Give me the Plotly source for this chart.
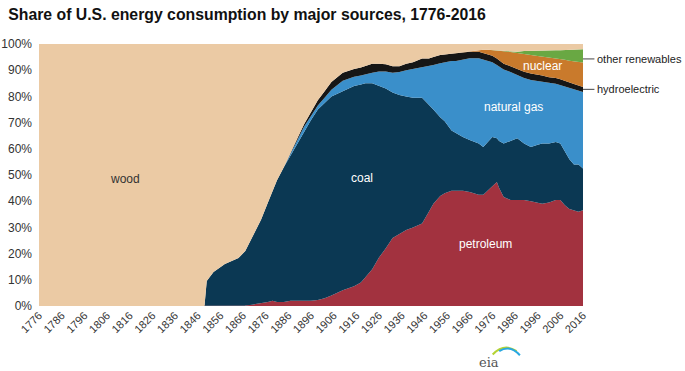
import plotly.graph_objects as go

years = [1776, 1849, 1850, 1853, 1858, 1864, 1867, 1870, 1874, 1877,
         1879, 1881, 1884, 1887, 1890, 1893, 1896, 1899, 1902, 1905,
         1910, 1915, 1918, 1920, 1923, 1926, 1929, 1932, 1935, 1938,
         1941, 1945, 1948, 1950, 1953, 1955, 1958, 1960, 1963, 1966,
         1970, 1972, 1974, 1976, 1978, 1979, 1981, 1984, 1987, 1990,
         1993, 1996, 1998, 2001, 2004, 2006, 2008, 2010, 2012, 2014,
         2016]

petroleum = [0, 0, 0, 0, 0, 0, 0.2, 0.5, 1, 1.5,
             2, 1.5, 1.5, 2, 2, 2, 2, 2.3, 3, 4,
             6, 7.5, 9, 11, 14, 18.5, 22, 26, 27.5, 29,
             30, 31.5, 36, 39, 42, 43, 44, 44, 44, 43.5,
             42.5, 42.5, 44, 45.5, 47.3, 45, 41.6, 40.5, 40.5, 40.5,
             40, 39.5, 39, 39.5, 40.5, 40.5, 38.5, 37, 36.5, 36,
             36.5]

coal = [0, 0, 9.5, 13, 16, 18.3, 20.8, 25.5, 32, 38,
        42, 46.5, 51.5, 55.5, 60, 65, 69, 72.7, 74.5, 76,
        76, 76.5, 75.5, 74, 71, 65.5, 61, 55.5, 53, 51,
        49.5, 48, 41, 36, 30, 27.5, 23, 22, 20.5, 19.9,
        19.5, 18.2, 18.5, 19, 16.7, 18, 20.4, 22.5, 23.5, 21.5,
        20.7, 22, 23, 22.5, 22.1, 21.5, 20.5, 19, 17.5, 18,
        16]

natural_gas = [0, 0, 0, 0, 0, 0, 0, 0, 0, 0,
               0, 0, 0, 0.7, 1.5, 1.5, 1.5, 1.5, 2, 2.5,
               4, 3.5, 3.5, 3.5, 4, 5.5, 6.5, 7.5, 8.8, 10,
               11, 11.5, 14.5, 17, 20.7, 22.5, 26.5, 27.5, 29.5, 31.2,
               32.6, 33.3, 31, 28.5, 28, 28.5, 28.3, 26.3, 24, 25,
               25.6, 24.3, 23.6, 23.2, 22.2, 22.3, 24.7, 27.2, 28.7, 28.2,
               29.2]

hydroelectric = [0, 0, 0, 0, 0, 0, 0, 0, 0, 0,
                 0, 0, 0, 0, 0.5, 1, 1.5, 2, 2.5, 3,
                 3, 3, 3, 3, 3.5, 3, 2.8, 2.5, 2.2, 2.5,
                 2.5, 3.5, 3, 3, 3.1, 3, 2.8, 2.8, 2.7, 2.4,
                 2.4, 2.5, 2.5, 2.5, 2.5, 2.3, 2.2, 2.2, 2.3, 2.4,
                 2.4, 2.5, 2.4, 2.1, 2.2, 2.2, 2.1, 2, 2, 2,
                 1.9]

nuclear = [0, 0, 0, 0, 0, 0, 0, 0, 0, 0,
           0, 0, 0, 0, 0, 0, 0, 0, 0, 0,
           0, 0, 0, 0, 0, 0, 0, 0, 0, 0,
           0, 0, 0, 0, 0, 0, 0.05, 0.05, 0.1, 0.3,
           0.7, 1.3, 1.8, 2.2, 3, 3.6, 4.7, 5.4, 6.3, 6.9,
           7.1, 7.1, 7.2, 7.6, 7.6, 7.8, 8.2, 8.4, 8.6, 8.9,
           9.3]

other_renewables = [0, 0, 0, 0, 0, 0, 0, 0, 0, 0,
                    0, 0, 0, 0, 0, 0, 0, 0, 0, 0,
                    0, 0, 0, 0, 0, 0, 0, 0, 0, 0,
                    0, 0, 0, 0, 0, 0, 0, 0, 0, 0,
                    0, 0, 0, 0, 0, 0, 0, 0.1, 0.4, 1,
                    1.6, 2.2, 2.4, 2.7, 3, 3.3, 3.7, 4.2, 4.6, 4.8,
                    5.1]

wood = [100, 100, 90.5, 87, 84, 81.7, 79, 74, 67, 60.5,
        56, 52, 47, 41.8, 36, 30.5, 26, 21.5, 18, 14.5,
        11, 9.5, 9, 8.5, 7.5, 7.5, 7.7, 8.5, 8.5, 7.5,
        7, 5.5, 5.5, 5, 4.2, 4, 3.65, 3.65, 3.2, 2.7,
        2.3, 2.2, 2.2, 2.3, 2.5, 2.6, 2.8, 3, 3, 2.7,
        2.6, 2.4, 2.4, 2.4, 2.4, 2.4, 2.3, 2.2, 2.1, 2.1,
        2]

x_ticks = list(range(1776, 2017, 10))
y_ticks = list(range(0, 101, 10))

series = [
    ("petroleum", petroleum, "#A2323F"),
    ("coal", coal, "#0B3853"),
    ("natural gas", natural_gas, "#3A8FCA"),
    ("hydroelectric", hydroelectric, "#161616"),
    ("nuclear", nuclear, "#C97A2C"),
    ("other renewables", other_renewables, "#69A843"),
    ("wood", wood, "#EBCAA4"),
]

fig = go.Figure()
for name, vals, col in series:
    fig.add_trace(go.Scatter(
        x=years, y=vals, name=name, mode="lines", stackgroup="one",
        line=dict(width=0, color=col), fillcolor=col, hoverinfo="x+y+name",
    ))

fig.update_layout(
    width=685, height=371,
    margin=dict(l=39, r=102, t=44, b=65, autoexpand=False),
    paper_bgcolor="white", plot_bgcolor="white",
    showlegend=False,
    font=dict(family="Liberation Sans, Arial, sans-serif", color="#333", size=12),
    title=dict(
        text="<b>Share of U.S. energy consumption by major sources, 1776-2016</b>",
        x=0.012, xanchor="left", y=0.962, yanchor="middle",
        font=dict(family="Liberation Sans, Arial, sans-serif", size=15.8, color="#111"),
    ),
    xaxis=dict(
        range=[1776, 2016], tickvals=x_ticks, ticktext=[str(t) for t in x_ticks],
        tickangle=-45, tickfont=dict(size=11, color="#333"), automargin=False,
        showgrid=False, zeroline=False, showline=False, ticks="",
    ),
    yaxis=dict(
        range=[0, 100], tickvals=y_ticks, ticktext=[f"{t}%" for t in y_ticks],
        tickfont=dict(size=12, color="#333"), automargin=False, ticklabelstandoff=6,
        showgrid=False, zeroline=False, showline=False, ticks="",
    ),
)

labels = [
    ("wood", 1814, 48.5, "#333"),
    ("coal", 1918.5, 49, "white"),
    ("natural gas", 1985.5, 76, "white"),
    ("petroleum", 1973, 23.7, "white"),
    ("nuclear", 1998, 91.6, "white"),
]
for txt, xx, yy, col in labels:
    fig.add_annotation(x=xx, y=yy, text=txt, showarrow=False,
                       font=dict(size=12, color=col))

for txt, yy in [("other renewables", 94.3), ("hydroelectric", 82.7)]:
    fig.add_shape(type="line", xref="paper", yref="y", x0=1.0, x1=1.021, y0=yy, y1=yy,
                  line=dict(color="#444", width=1))
    fig.add_annotation(xref="paper", yref="y", x=1.0225, y=yy, text=txt, showarrow=False,
                       xanchor="left", font=dict(size=11, color="#222"))

# eia logo
fig.add_shape(type="path", xref="paper", yref="paper",
              path="M 0.834,-0.185 Q 0.855,-0.140 0.878,-0.172",
              line=dict(color="#B5D334", width=2))
fig.add_shape(type="path", xref="paper", yref="paper",
              path="M 0.846,-0.172 Q 0.866,-0.146 0.884,-0.188",
              line=dict(color="#29A8E0", width=2))
fig.add_annotation(xref="paper", yref="paper", x=0.850, y=-0.215, text="eia",
                   showarrow=False, yanchor="middle",
                   font=dict(family="DejaVu Serif, serif", size=13, color="#555"))

fig.write_html("out.html", config={"displayModeBar": False},
               post_script="document.body.style.margin='0';")
